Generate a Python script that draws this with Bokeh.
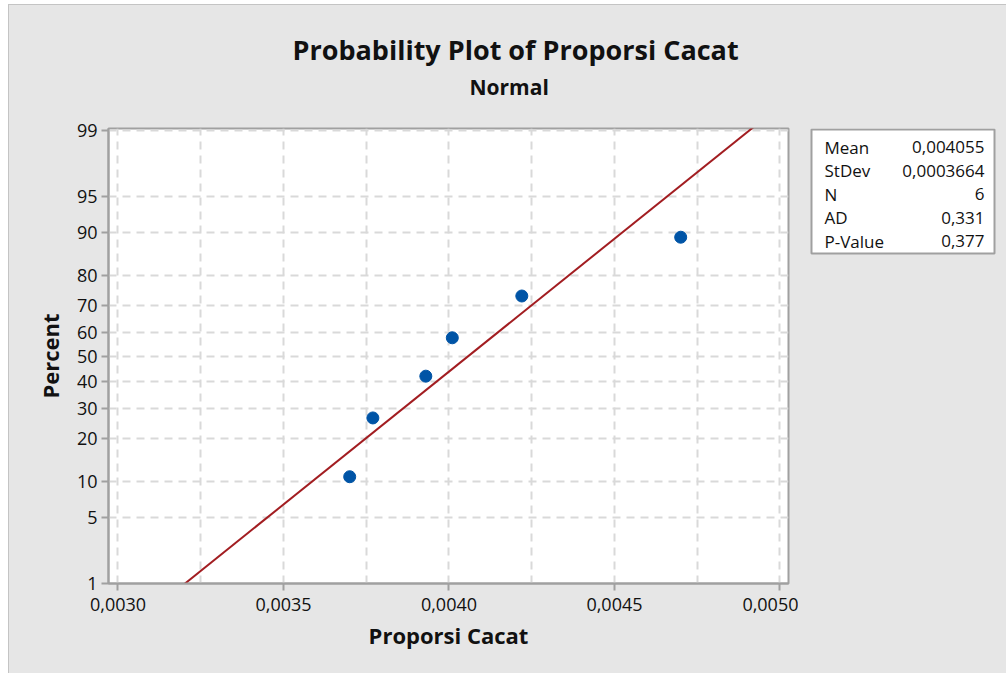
from statistics import NormalDist
from bokeh.plotting import figure
from bokeh.layouts import row
from bokeh.models import Range1d, FixedTicker, Title, ColumnDataSource
from bokeh.embed import file_html
from bokeh.resources import INLINE

# ---- data ----
proporsi = [0.00370, 0.00377, 0.00393, 0.00401, 0.00422, 0.00470]
mean_val = 0.004055
stdev_val = 0.0003664
x_ticks = [0.0030, 0.0035, 0.0040, 0.0045, 0.0050]
x_tick_labels = ["0,0030", "0,0035", "0,0040", "0,0045", "0,0050"]
x_grid_step = 0.00025
pct_ticks = [1, 5, 10, 20, 30, 40, 50, 60, 70, 80, 90, 95, 99]
stat_names = ["Mean", "StDev", "N", "AD", "P-Value"]
stat_values = ["0,004055", "0,0003664", "6", "0,331", "0,377"]

nd = NormalDist()
n = len(proporsi)
pct_pos = [(i + 1 - 0.3) / (n + 0.4) for i in range(n)]  # Benard median ranks
z_pts = [nd.inv_cdf(q) for q in pct_pos]
z_ticks = [nd.inv_cdf(t / 100) for t in pct_ticks]

FONT = "Open Sans"
BG = "#e6e6e6"
FRAME = "#a0a0a0"
TXT = "#111111"

y0 = nd.inv_cdf(0.01)
y1 = nd.inv_cdf(0.99) + 0.02
x0 = 0.003 - 0.0000287
x1 = x0 + 0.0020544

H = 668
TOP = 123
FH = 455
p = figure(width=789, height=H, output_backend="svg", toolbar_location=None,
           x_range=Range1d(x0, x1), y_range=Range1d(y0, y1),
           min_border_left=99, min_border_right=10, min_border_top=TOP,
           min_border_bottom=H - TOP - FH)
p.background_fill_color = "white"
p.border_fill_color = BG
p.outline_line_color = FRAME
p.outline_line_width = 2

# titles: spacer nearest the frame, then subtitle, main title outermost
p.title.text = "Probability Plot of Proporsi Cacat"
p.title.align = "left"
p.title.offset = 184
p.title.standoff = 5
p.title.text_font = FONT
p.title.text_font_size = "27px"
p.title.text_font_style = "bold"
p.title.text_color = TXT
p.add_layout(Title(text=" ", text_font_size="1px", standoff=25), "above")
p.add_layout(Title(text="Normal", align="left", offset=361, standoff=0,
                   text_font=FONT, text_font_size="21px",
                   text_font_style="bold", text_color=TXT), "above")

# grids
xg = [x_ticks[0] + i * x_grid_step for i in range(9)]
p.xgrid.ticker = FixedTicker(ticks=xg)
p.ygrid.ticker = FixedTicker(ticks=z_ticks)
for g in (p.xgrid, p.ygrid):
    g.grid_line_color = "#d9d9d9"
    g.grid_line_dash = "8 6"
    g.grid_line_width = 2

# axes
p.xaxis.ticker = FixedTicker(ticks=x_ticks)
p.xaxis.major_label_overrides = {t: l for t, l in zip(x_ticks, x_tick_labels)}
p.yaxis.ticker = FixedTicker(ticks=z_ticks)
p.yaxis.major_label_overrides = {z: str(v) for z, v in zip(z_ticks, pct_ticks)}
p.xaxis.axis_label = "Proporsi Cacat"
p.yaxis.axis_label = "Percent"
for ax in (p.xaxis, p.yaxis):
    ax.axis_line_color = FRAME
    ax.axis_line_width = 2
    ax.major_tick_line_color = FRAME
    ax.major_tick_line_width = 2
    ax.major_tick_out = 7
    ax.major_tick_in = 0
    ax.minor_tick_line_color = None
    ax.major_label_text_font = FONT
    ax.major_label_text_font_size = "18px"
    ax.major_label_text_color = TXT
    ax.axis_label_text_font = FONT
    ax.axis_label_text_font_size = "22px"
    ax.axis_label_text_font_style = "bold"
    ax.axis_label_text_color = TXT
p.xaxis.major_label_standoff = 7
p.xaxis.axis_label_standoff = 6
p.yaxis.major_label_standoff = 4
p.yaxis.axis_label_standoff = 9

# fitted normal line from mean and stdev
zl = [y0 - 0.1, y1 + 0.1]
line_src = ColumnDataSource(dict(x=[mean_val + z * stdev_val for z in zl], y=zl))
p.line("x", "y", source=line_src, line_color="#a21d21", line_width=2)

pts = ColumnDataSource(dict(x=proporsi, y=z_pts))
p.scatter("x", "y", source=pts, size=12, fill_color="#0054a6", line_color="#0054a6")

# ---- side panel with statistics table (frame aligns with main frame) ----
W2 = 208
s = figure(width=W2, height=H, output_backend="svg", toolbar_location=None,
           x_range=Range1d(0, W2), y_range=Range1d(TOP + FH, TOP),
           x_axis_type=None, y_axis_type=None,
           min_border_left=0, min_border_right=0, min_border_top=TOP,
           min_border_bottom=H - TOP - FH)
s.background_fill_color = BG
s.border_fill_color = BG
s.outline_line_color = None
s.grid.visible = False
s.quad(left=[13], right=[196], top=[TOP + 1], bottom=[TOP + 125], fill_color="white",
       line_color=FRAME, line_width=2)
row_y = [TOP + 18.5 + i * 23.5 for i in range(len(stat_names))]
s.text(x=[26] * len(stat_names), y=row_y, text=stat_names, text_align="left",
       text_baseline="middle", text_font_size="17px", text_color=TXT,
       text_font={"value": FONT})
s.text(x=[186] * len(stat_values), y=row_y, text=stat_values, text_align="right",
       text_baseline="middle", text_font_size="17px", text_color=TXT,
       text_font={"value": FONT})

layout = row(p, s, spacing=0, margin=(4, 0, 0, 8),
             styles={"background-color": BG,
                     "border-left": "1px solid #c4c4c4",
                     "border-top": "1px solid #c4c4c4"})
open("out.html", "w").write(file_html(layout, INLINE))
